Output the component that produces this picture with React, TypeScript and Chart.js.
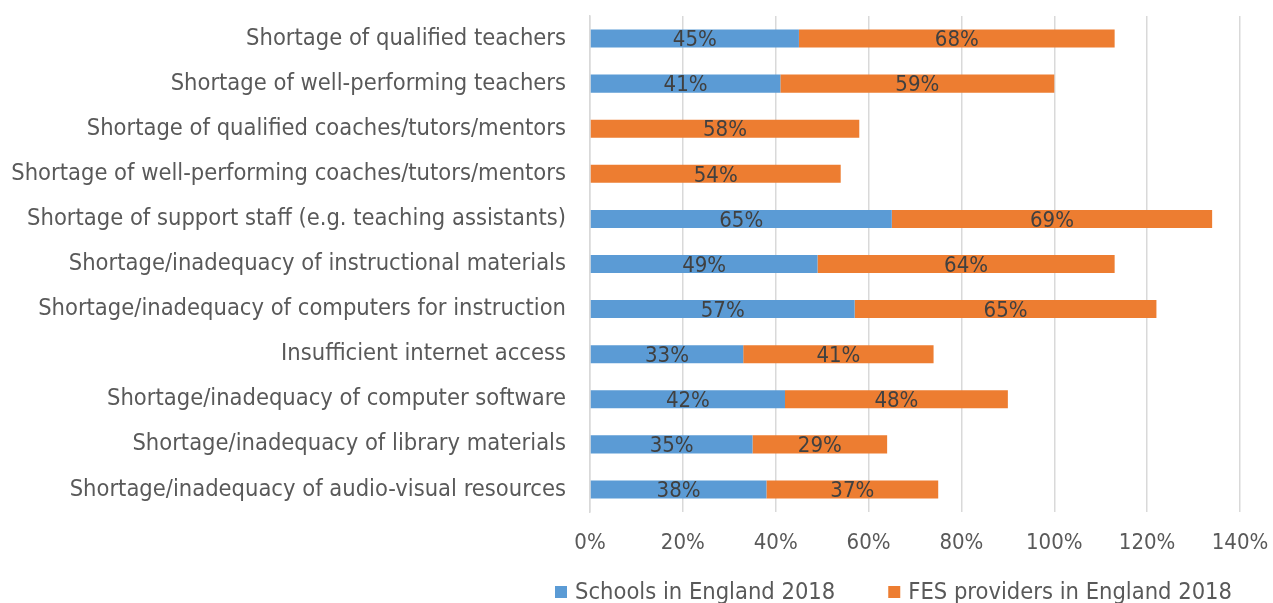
import React, { useEffect, useRef } from "react";
import { Chart, registerables } from "chart.js";

Chart.register(...registerables);

const categories = [
  "Shortage of qualified teachers",
  "Shortage of well-performing teachers",
  "Shortage of qualified coaches/tutors/mentors",
  "Shortage of well-performing coaches/tutors/mentors",
  "Shortage of support staff (e.g. teaching assistants)",
  "Shortage/inadequacy of instructional materials",
  "Shortage/inadequacy of computers for instruction",
  "Insufficient internet access",
  "Shortage/inadequacy of computer software",
  "Shortage/inadequacy of library materials",
  "Shortage/inadequacy of audio-visual resources",
];

const schools2018 = [45, 41, null, null, 65, 49, 57, 33, 42, 35, 38];
const fes2018 = [68, 59, 58, 54, 69, 64, 65, 41, 48, 29, 37];

const xTicks = [0, 20, 40, 60, 80, 100, 120, 140];

const FONT = "'DejaVu Sans Condensed', 'DejaVu Sans', sans-serif";

const dataLabels = {
  id: "dataLabels",
  afterDatasetsDraw(chart: any) {
    const ctx = chart.ctx;
    ctx.save();
    ctx.font = `22px ${FONT}`;
    ctx.fillStyle = "#404040";
    ctx.textAlign = "center";
    ctx.textBaseline = "middle";
    chart.data.datasets.forEach((ds: any, di: number) => {
      const meta = chart.getDatasetMeta(di);
      meta.data.forEach((bar: any, i: number) => {
        const v = ds.data[i];
        if (v === null || v === undefined) return;
        const cx = (bar.x + bar.base) / 2;
        ctx.fillText(`${v}%`, cx, bar.y + 2);
      });
    });
    ctx.restore();
  },
};

const customLegend = {
  id: "customLegend",
  afterDraw(chart: any) {
    const ctx = chart.ctx;
    ctx.save();
    ctx.font = `23.5px ${FONT}`;
    ctx.textBaseline = "middle";
    ctx.textAlign = "left";
    let x = 555;
    const cy = 592;
    chart.data.datasets.forEach((ds: any) => {
      ctx.fillStyle = ds.backgroundColor;
      ctx.fillRect(x, cy - 6, 12, 12);
      ctx.fillStyle = "#595959";
      ctx.fillText(ds.label, x + 20, cy + 1);
      x += 20 + ctx.measureText(ds.label).width + 53;
    });
    ctx.restore();
  },
};

export default function App() {
  const ref = useRef<HTMLCanvasElement>(null);
  useEffect(() => {
    const chart = new Chart(ref.current!, {
      type: "bar",
      data: {
        labels: categories,
        datasets: [
          {
            label: "Schools in England 2018",
            data: schools2018,
            backgroundColor: "#5B9BD5",
            barPercentage: 0.4,
            categoryPercentage: 1,
          },
          {
            label: "FES providers in England 2018",
            data: fes2018,
            backgroundColor: "#ED7D31",
            barPercentage: 0.4,
            categoryPercentage: 1,
          },
        ],
      },
      options: {
        indexAxis: "y",
        animation: false,
        responsive: false,
        layout: { padding: { top: 16, right: 33, left: 0, bottom: 45 } },
        plugins: {
          legend: { display: false },
          tooltip: { enabled: false },
        },
        scales: {
          x: {
            stacked: true,
            min: 0,
            max: 140,
            afterBuildTicks: (s: any) => {
              s.ticks = xTicks.map((v) => ({ value: v }));
            },
            afterFit: (s: any) => {
              s.height = 46;
              s.paddingRight = 0;
              s.paddingLeft = 0;
            },
            grid: { color: "#d9d9d9", drawTicks: false, lineWidth: 1.5 },
            border: { display: false },
            ticks: {
              color: "#595959",
              padding: 18,
              font: { size: 22, family: FONT },
              callback: (v: any) => `${v}%`,
            },
          },
          y: {
            stacked: true,
            afterFit: (s: any) => {
              s.width = 590;
              s.paddingTop = 0;
              s.paddingBottom = 0;
            },
            grid: { display: false, drawTicks: false },
            border: { display: true, color: "#d9d9d9", width: 1.5 },
            ticks: {
              color: "#595959",
              padding: 24,
              font: { size: 23.5, family: FONT },
            },
          },
        },
      },
      plugins: [dataLabels, customLegend],
    });
    return () => chart.destroy();
  }, []);
  return (
    <div style={{ position: "fixed", left: 0, top: 0, width: 1273, height: 603, background: "#fff" }}>
      <canvas ref={ref} width={1273} height={603} />
    </div>
  );
}
